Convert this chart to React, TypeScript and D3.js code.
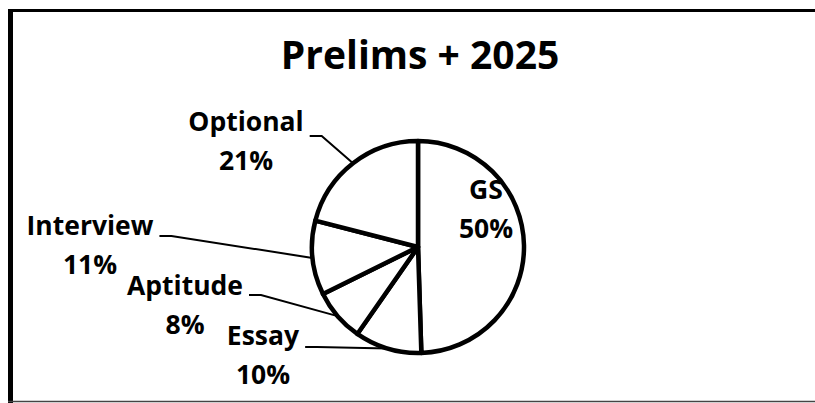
import React, { useEffect, useRef } from "react";
import * as d3 from "d3";

const TITLE = "Prelims + 2025";
const categories = ["GS", "Essay", "Aptitude", "Interview", "Optional"];
const values = [49.5, 10.2, 8.0, 11.3, 21.0];

// label layout: text center x, first-line baseline y, leader offset from baseline (null = inside label, no leader)
const labelX = [486, 263, 185, 90, 246];
const labelY = [199, 345, 295, 235, 131];
const leaderDy = [null, 2, 0, 1, 5];

const W = 815;
const H = 403;
const CX = 418;
const CY = 247;
const R = 106;
const FONT = "'Open Sans', 'Liberation Sans', sans-serif";

export default function App() {
  const ref = useRef<SVGSVGElement | null>(null);

  useEffect(() => {
    const svg = d3.select(ref.current);
    svg.selectAll("*").remove();

    svg.append("rect").attr("width", W).attr("height", H).attr("fill", "#fff");

    // frame
    svg.append("line").attr("x1", 8).attr("x2", W).attr("y1", 10.5).attr("y2", 10.5)
      .attr("stroke", "#000").attr("stroke-width", 3);
    svg.append("line").attr("x1", 10.5).attr("x2", 10.5).attr("y1", 9).attr("y2", H)
      .attr("stroke", "#000").attr("stroke-width", 5);
    svg.append("line").attr("x1", 8).attr("x2", W).attr("y1", 401.5).attr("y2", 401.5)
      .attr("stroke", "#444").attr("stroke-width", 1.5);

    // title
    svg.append("text").attr("x", 420).attr("y", 69).attr("text-anchor", "middle")
      .attr("font-family", FONT).attr("font-weight", 700).attr("font-size", 39)
      .attr("fill", "#000").text(TITLE);

    const total = d3.sum(values);
    const data = categories.map((c, i) => ({ c, v: values[i], i }));
    const pie = d3.pie<any>().value((d: any) => d.v).sort(null).startAngle(0).endAngle(2 * Math.PI);
    const arcs = pie(data);
    const arc = d3.arc<any>().innerRadius(0).outerRadius(R);
    const edge = d3.arc<any>().innerRadius(R).outerRadius(R);

    const g = svg.append("g").attr("transform", `translate(${CX},${CY})`);
    g.selectAll("path.slice").data(arcs).enter().append("path")
      .attr("class", "slice")
      .attr("d", arc as any)
      .attr("fill", "#fff")
      .attr("stroke", "#000")
      .attr("stroke-width", 4.5)
      .attr("stroke-linejoin", "round");

    const labels = svg.append("g");
    arcs.forEach((a: any) => {
      const i = a.data.i;
      const t = labels.append("text").attr("text-anchor", "middle")
        .attr("font-family", FONT).attr("font-weight", 700).attr("font-size", 26.5).attr("fill", "#000");
      const l1 = t.append("tspan").attr("x", labelX[i]).attr("y", labelY[i]).text(categories[i]);
      t.append("tspan").attr("x", labelX[i]).attr("y", labelY[i] + 38.5)
        .text(`${Math.round((values[i] / total) * 100)}%`);
      const dy = leaderDy[i];
      if (dy !== null) {
        const w = (l1.node() as SVGTSpanElement).getComputedTextLength();
        const sx = labelX[i] + w / 2 + 6;
        const sy = labelY[i] + dy;
        const [ex, ey] = edge.centroid(a);
        labels.append("polyline")
          .attr("points", `${sx},${sy} ${sx + 12},${sy} ${CX + ex},${CY + ey}`)
          .attr("fill", "none").attr("stroke", "#000").attr("stroke-width", 2);
      }
    });
  }, []);

  return (
    <svg ref={ref} width={W} height={H}
      style={{ position: "absolute", left: 0, top: 0, display: "block" }} />
  );
}
